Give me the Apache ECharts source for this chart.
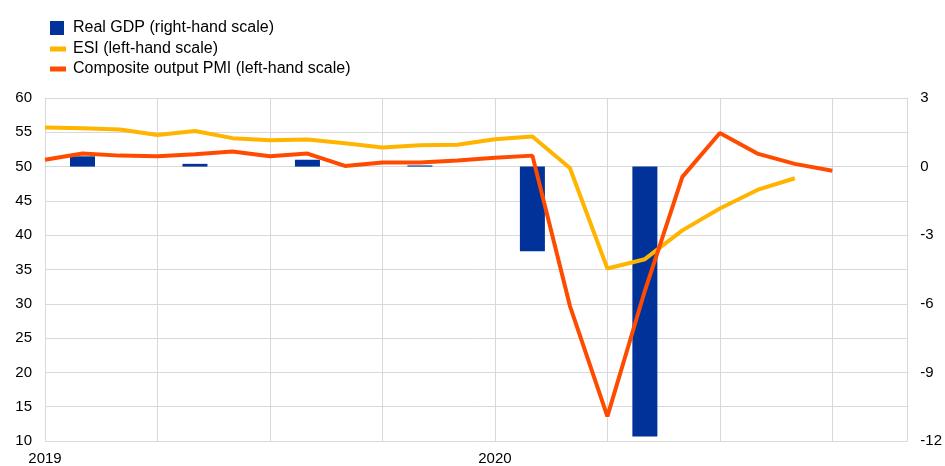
<!DOCTYPE html>
<html><head><meta charset="utf-8">
<script src="https://cdn.jsdelivr.net/npm/echarts@6/dist/echarts.min.js"></script>
<style>html,body{margin:0;padding:0;background:#fff}#c{width:945px;height:466px}</style>
</head><body><div id="c"></div>
<script>
const months = ['2019-01','2019-02','2019-03','2019-04','2019-05','2019-06','2019-07','2019-08','2019-09','2019-10','2019-11','2019-12',
  '2020-01','2020-02','2020-03','2020-04','2020-05','2020-06','2020-07','2020-08','2020-09','2020-10','2020-11','2020-12'];
const gdp = [null,0.45,null,null,0.12,null,null,0.3,null,null,0.05,null,
  null,-3.7,null,null,-11.8,null,null,null,null,null,null,null];
const esi = [55.7,55.6,55.4,54.6,55.2,54.15,53.85,53.95,53.4,52.8,53.1,53.2,
  54.0,54.4,49.8,35.15,36.5,40.7,43.9,46.6,48.3,null,null,null];
const pmi = [51.0,51.9,51.6,51.5,51.8,52.2,51.5,51.9,50.1,50.6,50.6,50.9,
  51.3,51.6,29.7,13.6,31.9,48.5,54.9,51.9,50.4,49.4,null,null];
const leftTicks = {min:10, max:60, interval:5};
const rightTicks = {min:-12, max:3, interval:3};

const FONT = 'Liberation Sans, Arial, sans-serif';
const chart = echarts.init(document.getElementById('c'), null, {renderer:'canvas'});
chart.setOption({
  animation:false,
  textStyle:{fontFamily:FONT},
  grid:{left:45, right:37, top:98, bottom:25, containLabel:false},
  legend:[
    {data:['Real GDP (right-hand scale)'], left:45, top:15, orient:'vertical', icon:'rect',
     itemWidth:14, itemHeight:14, itemGap:6, textStyle:{fontSize:16, color:'#000', fontFamily:FONT, padding:[0,0,0,4]}},
    {data:['ESI (left-hand scale)','Composite output PMI (left-hand scale)'], left:45, top:36, orient:'vertical', icon:'rect',
     itemWidth:16, itemHeight:5, itemGap:4, textStyle:{fontSize:16, color:'#000', fontFamily:FONT, padding:[0,0,0,2]}}
  ],
  xAxis:{type:'category', data:months, boundaryGap:false,
    axisLine:{show:true, lineStyle:{color:'#d9d9d9', width:1}},
    axisTick:{show:false},
    axisLabel:{interval:0, fontSize:15, color:'#000', margin:10,
      formatter:(v)=> v.endsWith('-01') ? v.slice(0,4) : ''},
    splitLine:{show:true, interval:(i)=> i%3===0, lineStyle:{color:'#d9d9d9', width:1}}
  },
  yAxis:[
    {type:'value', position:'left', min:leftTicks.min, max:leftTicks.max, interval:leftTicks.interval,
     axisLine:{show:true, lineStyle:{color:'#d9d9d9'}}, axisTick:{show:false},
     axisLabel:{fontSize:15, color:'#000', margin:13},
     splitLine:{show:true, lineStyle:{color:'#d9d9d9', width:1}}},
    {type:'value', position:'right', min:rightTicks.min, max:rightTicks.max, interval:rightTicks.interval,
     axisLine:{show:true, lineStyle:{color:'#d9d9d9'}}, axisTick:{show:false},
     axisLabel:{fontSize:15, color:'#000', margin:13},
     splitLine:{show:false}}
  ],
  series:[
    {name:'Real GDP (right-hand scale)', type:'bar', yAxisIndex:1, data:gdp, barWidth:25,
     itemStyle:{color:'#003299'}, z:1},
    {name:'ESI (left-hand scale)', type:'line', yAxisIndex:0, data:esi, showSymbol:false, symbol:'none',
     lineStyle:{color:'#ffb400', width:4}, itemStyle:{color:'#ffb400'}, z:3},
    {name:'Composite output PMI (left-hand scale)', type:'line', yAxisIndex:0, data:pmi, showSymbol:false, symbol:'none',
     lineStyle:{color:'#ff4b00', width:4}, itemStyle:{color:'#ff4b00'}, z:4}
  ]
});
</script></body></html>
